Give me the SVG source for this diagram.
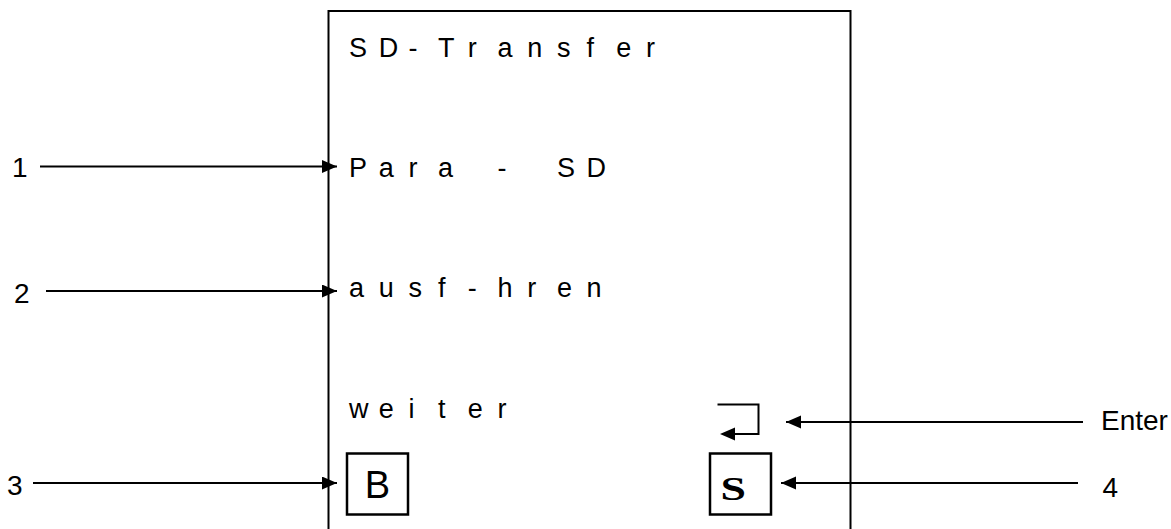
<svg xmlns="http://www.w3.org/2000/svg" width="1171" height="529" viewBox="0 0 1171 529">
<defs>
<style>
.t{font-family:"Liberation Sans",Arial,sans-serif;font-size:27px;fill:#000}
.lb{font-family:"Liberation Sans",Arial,sans-serif;font-size:28px;fill:#000}
.ln{stroke:#000;stroke-width:2;fill:none}
.box{stroke:#000;stroke-width:2.5;fill:#fff}
</style>
<marker id="ah" markerUnits="userSpaceOnUse" markerWidth="16" markerHeight="14" refX="15" refY="6.5" orient="auto">
<path d="M0,0 L15,6.5 L0,13 Z" fill="#000"/>
</marker>
</defs>
<rect width="1171" height="529" fill="#fff"/>
<g id="screen">
<path class="ln" d="M328.5,529 V11 H850.5 V529" stroke-width="2.2"/>
<text class="t" y="57" x="349 378.7 408.4 438.1 467.8 497.5 527.2 556.9 586.6 616.3 646">SD-Transfer</text>
<text class="t" y="177" x="349 378.7 408.4 438.1 467.8 497.5 527.2 556.9 586.6">Para - SD</text>
<text class="t" y="297" x="349 378.7 408.4 438.1 467.8 497.5 527.2 556.9 586.6">ausf-hren</text>
<text class="t" y="418" x="349 378.7 408.4 438.1 467.8 497.5">weiter</text>
</g>
<g id="key-B">
<rect class="box" x="347" y="453.5" width="61" height="61"/>
<text x="377.5" y="497.5" text-anchor="middle" style="font-family:'Liberation Sans',Arial,sans-serif;font-size:38px">B</text>
</g>
<g id="key-S">
<rect class="box" x="710" y="453.5" width="61" height="61"/>
<text x="720.5" y="500" textLength="25.5" lengthAdjust="spacingAndGlyphs" style="font-family:'Liberation Serif','Times New Roman',serif;font-size:33px;font-weight:bold">S</text>
</g>
<g id="enter-symbol">
<path class="ln" d="M717.5,404.5 H758.5 V434 H734"/>
<path d="M720,434 L735,427.5 L735,440.5 Z" fill="#000"/>
</g>
<g id="labels">
<text class="lb" x="12" y="176.5">1</text>
<text class="lb" x="14" y="303">2</text>
<text class="lb" x="7" y="495">3</text>
<text class="lb" x="1101" y="429.5">Enter</text>
<text class="lb" x="1102.5" y="496.5">4</text>
</g>
<g id="connectors">
<line class="ln" x1="40" y1="166.5" x2="337" y2="166.5" marker-end="url(#ah)"/>
<line class="ln" x1="46" y1="291" x2="337" y2="291" marker-end="url(#ah)"/>
<line class="ln" x1="33" y1="483" x2="337" y2="483" marker-end="url(#ah)"/>
<line class="ln" x1="1083" y1="422" x2="786" y2="422" marker-end="url(#ah)"/>
<line class="ln" x1="1078" y1="483" x2="781" y2="483" marker-end="url(#ah)"/>
</g>
</svg>
